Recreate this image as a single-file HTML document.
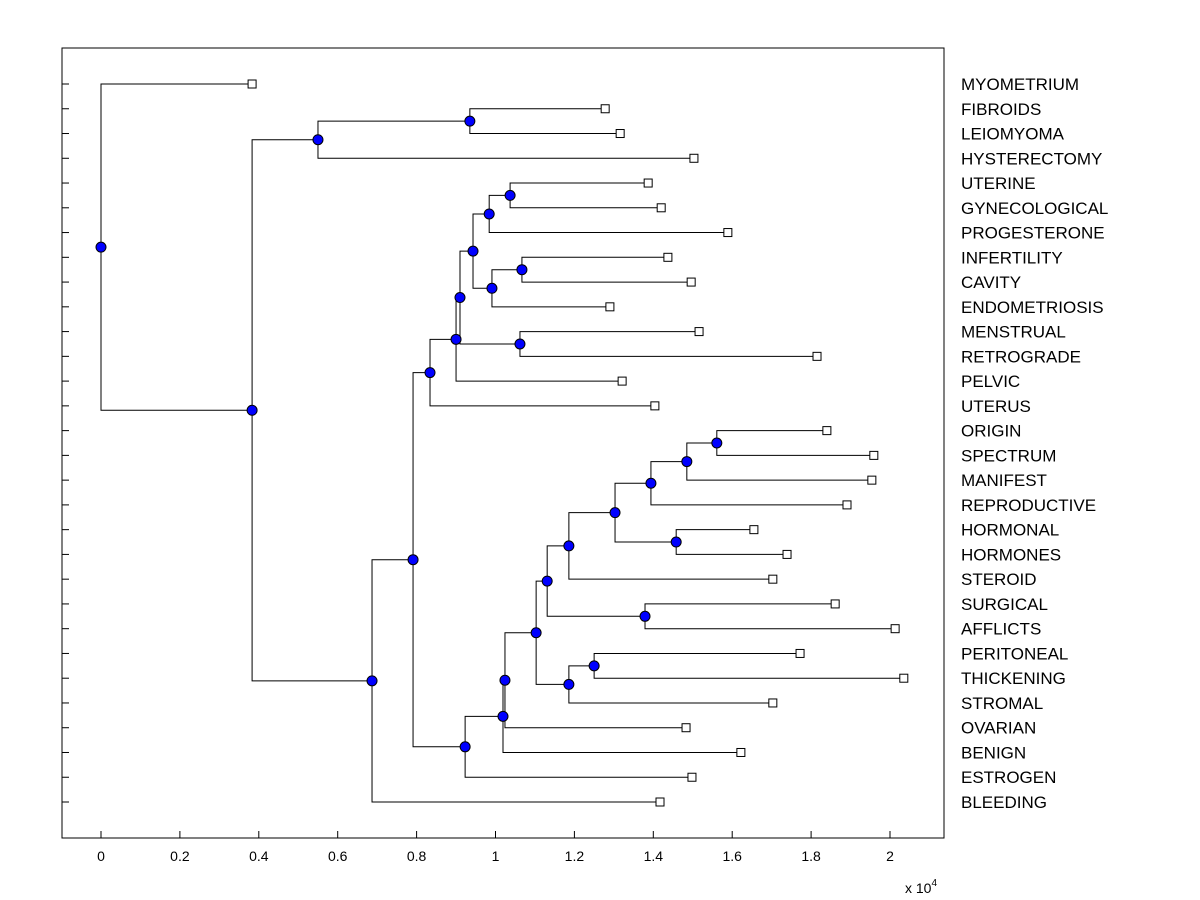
<!DOCTYPE html>
<html><head><meta charset="utf-8"><style>
body{margin:0;background:#fff;}
svg{display:block;font-family:"Liberation Sans",Arial,sans-serif;}
</style></head><body>
<svg id="chart" width="1200" height="900">
<rect x="0" y="0" width="1200" height="900" fill="#fff"/>
<g id="ticks"></g>
<g id="links"></g>
<g id="marks"></g>
<rect x="62" y="48" width="882" height="790" fill="none" stroke="#000" stroke-width="1"/>
<text x="905" y="893" font-size="14">x 10<tspan dy="-7" font-size="10">4</tspan></text>
</svg>
<script>
const leafLabels = ["MYOMETRIUM","FIBROIDS","LEIOMYOMA","HYSTERECTOMY","UTERINE","GYNECOLOGICAL","PROGESTERONE","INFERTILITY","CAVITY","ENDOMETRIOSIS","MENSTRUAL","RETROGRADE","PELVIC","UTERUS","ORIGIN","SPECTRUM","MANIFEST","REPRODUCTIVE","HORMONAL","HORMONES","STEROID","SURGICAL","AFFLICTS","PERITONEAL","THICKENING","STROMAL","OVARIAN","BENIGN","ESTROGEN","BLEEDING"];
const leafValues = [0.383,1.278,1.316,1.503,1.387,1.420,1.589,1.437,1.496,1.290,1.516,1.815,1.321,1.404,1.840,1.959,1.954,1.891,1.655,1.739,1.703,1.861,2.013,1.772,2.035,1.703,1.483,1.622,1.498,1.417];
const nodeNames =  ["D","O","M","S","N","I","J","K","L","F","BB","AA","Y","Z","X","V","W","T","CC","U","R","Q","P","G","E","C","B","A","root"];
const nodeLeft =   ["FIBROIDS","UTERINE","O","INFERTILITY","S","M","MENSTRUAL","I","K","L","ORIGIN","BB","AA","HORMONAL","Y","X","SURGICAL","V","PERITONEAL","CC","T","R","Q","P","F","E","D","B","MYOMETRIUM"];
const nodeRight =  ["LEIOMYOMA","GYNECOLOGICAL","PROGESTERONE","CAVITY","ENDOMETRIOSIS","N","RETROGRADE","J","PELVIC","UTERUS","SPECTRUM","MANIFEST","REPRODUCTIVE","HORMONES","Z","STEROID","AFFLICTS","W","THICKENING","STROMAL","U","OVARIAN","BENIGN","ESTROGEN","G","BLEEDING","HYSTERECTOMY","C","A"];
const nodeValues = [0.935,1.037,0.984,1.067,0.991,0.943,1.062,0.910,0.900,0.834,1.561,1.485,1.394,1.458,1.303,1.186,1.379,1.131,1.250,1.186,1.103,1.024,1.019,0.923,0.791,0.687,0.550,0.383,0];
const xTicks = [0,0.2,0.4,0.6,0.8,1,1.2,1.4,1.6,1.8,2];
const xTickLabels = ["0","0.2","0.4","0.6","0.8","1","1.2","1.4","1.6","1.8","2"];

const NS="http://www.w3.org/2000/svg";
const xScale = v => 101 + v*394.5;
const yScale = i => 84 + i*(802-84)/29;
function mk(tag, attrs, parent){const e=document.createElementNS(NS,tag);for(const k in attrs)e.setAttribute(k,attrs[k]);document.getElementById(parent).appendChild(e);return e;}

const pos = {};
leafLabels.forEach((n,i)=>{pos[n]={x:xScale(leafValues[i]),y:yScale(i)};});
nodeNames.forEach((n,i)=>{
  const a=pos[nodeLeft[i]], b=pos[nodeRight[i]];
  const x=xScale(nodeValues[i]);
  pos[n]={x:x,y:(a.y+b.y)/2};
  const p=mk('path',{d:`M${a.x},${a.y}H${x}V${b.y}H${b.x}`,fill:'none',stroke:'#000','stroke-width':1},'links');
  
  
});
leafLabels.forEach((n,i)=>{
  const p=pos[n];
  const r=mk('rect',{x:p.x-4,y:p.y-4,width:8,height:8,fill:'#fff',stroke:'#000','stroke-width':1},'marks');
  
  
  const t=mk('text',{x:961,y:p.y+6,'font-size':17},'marks');
  t.textContent=n;
  
  
  const tk=mk('line',{x1:62,x2:69,y1:p.y,y2:p.y,stroke:'#000'},'ticks');
  
  
});
nodeNames.forEach((n,i)=>{
  const p=pos[n];
  const c=mk('circle',{cx:p.x,cy:p.y,r:5,fill:'#0000ff',stroke:'#000','stroke-width':1},'marks');
  
  
});
xTicks.forEach((v,i)=>{
  const x=xScale(v);
  const tk=mk('line',{x1:x,x2:x,y1:838,y2:831,stroke:'#000'},'ticks');
  
  
  const t=mk('text',{x:x,y:861,'font-size':14,'text-anchor':'middle'},'ticks');
  t.textContent=xTickLabels[i];
  
  
});
</script>
</body></html>
